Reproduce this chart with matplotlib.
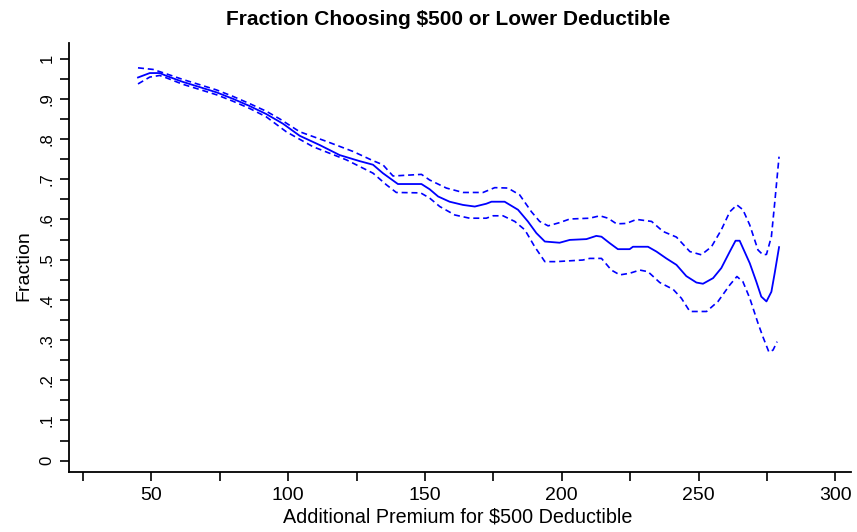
import numpy as np
import matplotlib
matplotlib.use('Agg')
import matplotlib.pyplot as plt

# fitted fraction and its confidence band
x_fit = [45.1, 49.4, 53.0, 55.5, 61.5, 67.7, 73.8, 79.8, 85.9, 92.0, 98.1, 104.2,
         111.5, 118.8, 126.1, 131.0, 134.6, 140.1, 148.7, 151.7, 154.8, 159.0, 163.9,
         168.2, 172.4, 174.3, 179.1, 184.0, 187.6, 190.7, 193.8, 199.2, 202.9, 209.0,
         212.6, 214.5, 217.5, 220.5, 224.8, 226.0, 231.5, 234.6, 238.2, 241.9, 245.5,
         249.2, 251.6, 255.3, 258.3, 261.4, 263.5, 265.0, 268.7, 271.1, 272.9, 274.8,
         276.6, 277.8, 279.4]
y_fit = [0.953, 0.964, 0.964, 0.957, 0.942, 0.929, 0.916, 0.900, 0.882, 0.862, 0.838,
         0.808, 0.785, 0.760, 0.745, 0.736, 0.715, 0.688, 0.688, 0.675, 0.657, 0.644,
         0.636, 0.632, 0.639, 0.644, 0.644, 0.624, 0.595, 0.566, 0.545, 0.542, 0.549,
         0.551, 0.559, 0.557, 0.541, 0.526, 0.526, 0.532, 0.532, 0.520, 0.503, 0.487,
         0.459, 0.443, 0.440, 0.454, 0.479, 0.520, 0.547, 0.547, 0.491, 0.445, 0.408,
         0.396, 0.420, 0.466, 0.531]

x_hi = [45.1, 50.6, 55.5, 61.5, 67.7, 73.8, 79.8, 85.9, 92.0, 96.9, 104.2, 114.0,
        123.7, 131.0, 134.6, 138.3, 148.7, 151.7, 157.8, 163.9, 171.2, 175.5, 180.3,
        184.6, 188.9, 191.9, 195.0, 199.2, 202.9, 210.2, 213.9, 216.9, 220.0, 223.6,
        227.3, 232.8, 237.0, 241.9, 246.8, 251.0, 254.7, 258.3, 261.4, 264.0, 266.2,
        268.7, 271.7, 273.5, 274.8, 276.6, 277.8, 279.4]
y_hi = [0.977, 0.973, 0.962, 0.948, 0.935, 0.922, 0.906, 0.888, 0.869, 0.850, 0.818,
        0.794, 0.769, 0.746, 0.736, 0.708, 0.712, 0.698, 0.678, 0.667, 0.667, 0.679,
        0.678, 0.661, 0.619, 0.595, 0.584, 0.592, 0.601, 0.603, 0.609, 0.603, 0.589,
        0.590, 0.600, 0.595, 0.570, 0.556, 0.520, 0.512, 0.532, 0.574, 0.619, 0.636,
        0.624, 0.586, 0.524, 0.512, 0.513, 0.557, 0.640, 0.756]

x_lo = [45.1, 49.4, 53.0, 55.5, 61.5, 67.7, 73.8, 79.8, 85.9, 92.0, 99.3, 109.0,
        121.3, 131.0, 135.9, 139.5, 148.4, 151.7, 155.4, 160.9, 166.3, 172.4, 174.9,
        178.5, 182.8, 186.5, 190.1, 193.8, 198.0, 207.7, 210.2, 214.5, 218.1, 221.2,
        224.8, 228.5, 231.5, 235.8, 240.7, 243.7, 246.8, 252.9, 257.1, 261.4, 264.0,
        266.2, 268.7, 271.7, 273.5, 275.7, 277.2, 278.7]
y_lo = [0.937, 0.954, 0.958, 0.952, 0.936, 0.923, 0.910, 0.894, 0.876, 0.855, 0.818,
        0.781, 0.748, 0.715, 0.686, 0.667, 0.666, 0.653, 0.632, 0.611, 0.603, 0.603,
        0.609, 0.609, 0.595, 0.574, 0.532, 0.495, 0.495, 0.499, 0.503, 0.503, 0.474,
        0.462, 0.466, 0.474, 0.470, 0.443, 0.426, 0.404, 0.371, 0.371, 0.396, 0.437,
        0.458, 0.445, 0.404, 0.342, 0.308, 0.270, 0.275, 0.296]

x_ticks = [50, 100, 150, 200, 250, 300]
x_minor = [25, 75, 125, 175, 225, 275]
y_ticks = [0, .1, .2, .3, .4, .5, .6, .7, .8, .9, 1]
y_labels = ['0', '.1', '.2', '.3', '.4', '.5', '.6', '.7', '.8', '.9', '1']

plt.rcParams['font.family'] = ['Liberation Sans', 'DejaVu Sans']

fig = plt.figure(figsize=(8.57, 5.32), dpi=100)
ax = fig.add_axes([0.0809, 0.1122, 0.9121, 0.8064])

ax.plot(x_fit, y_fit, color='#0000ff', lw=1.3)
ax.plot(x_hi, y_hi, color='#0000ff', lw=1.2, linestyle=(0, (3.6, 2.3)))
ax.plot(x_lo, y_lo, color='#0000ff', lw=1.2, linestyle=(0, (3.6, 2.3)))

ax.set_xlim(20, 305.7)
ax.set_ylim(-0.029, 1.038)

for s in ['top', 'right']:
    ax.spines[s].set_visible(False)
for s in ['left', 'bottom']:
    ax.spines[s].set_linewidth(1.3)

ax.set_xticks(x_ticks)
ax.set_xticks(x_minor, minor=True)
ax.set_yticks(y_ticks)
ax.set_yticklabels(y_labels, rotation=90, va='center')
ax.set_yticks(np.arange(0.05, 1.0, 0.1), minor=True)
ax.tick_params(which='both', direction='out', length=6.8, width=1.2, color='black')
ax.tick_params(axis='y', labelsize=12, pad=4)
ax.tick_params(axis='x', labelsize=14, pad=3.5)

ax.set_xlabel('Additional Premium for $500 Deductible', fontsize=14.2)
ax.xaxis.set_label_coords(0.497, -0.083)
ax.set_ylabel('Fraction', fontsize=14)
ax.yaxis.set_label_coords(-0.0477, 0.481)

fig.text(0.523, 1 - 25 / 532, 'Fraction Choosing $500 or Lower Deductible',
         fontsize=15, fontweight='bold', ha='center', va='baseline')

fig.savefig('out.png', dpi=100)
